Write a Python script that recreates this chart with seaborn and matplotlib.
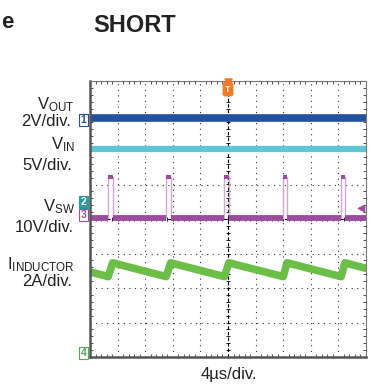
import numpy as np
import matplotlib
matplotlib.use("Agg")
import matplotlib.pyplot as plt
import matplotlib.transforms as mtransforms
from matplotlib.ticker import MultipleLocator
import seaborn as sns
import pandas as pd

# --- values (divisions: x 0..10, y 0..8) ---
vout_level = 6.93
vin_level = 6.03
vsw_low = 4.03
vsw_high = 5.22
sw_rise = [0.66, 2.76, 4.87, 7.00, 9.10]
sw_fall = [0.82, 2.92, 5.03, 7.14, 9.24]
il_x = [0, 0.66, 0.82, 2.76, 2.92, 4.87, 5.03, 7.00, 7.14, 9.10, 9.24, 10]
il_y = [2.47, 2.33, 2.73, 2.33, 2.73, 2.33, 2.73, 2.33, 2.73, 2.33, 2.73, 2.57]

sns.set_style("white")
plt.rcParams['font.family'] = ['Liberation Sans', 'DejaVu Sans']
plt.rcParams['mathtext.default'] = 'regular'

c_vout = "#2450a0"
c_vin = "#5cc6d2"
c_vsw = "#9c4c9e"
c_vsw_edge = "#d4a6d4"
c_il = "#6cbf46"
c_trig = "#f37a22"

# switch node waveform built from edge times
vsw_x, vsw_y = [0], [vsw_low]
for r, f in zip(sw_rise, sw_fall):
    vsw_x += [r, r, f, f]
    vsw_y += [vsw_low, vsw_high, vsw_high, vsw_low]
vsw_x.append(10)
vsw_y.append(vsw_low)
vsw = pd.DataFrame({"t": vsw_x, "v": vsw_y})
vsw["lo"] = vsw["v"].where(vsw["v"] < 4.5)
vsw["hi"] = vsw["v"].where(vsw["v"] > 4.5)

fig = plt.figure(figsize=(3.72, 3.85), dpi=100)
ax = fig.add_axes([90 / 372, 1 - 357 / 385, 276 / 372, 276 / 385])

sns.lineplot(x=[0, 10], y=[vout_level, vout_level], ax=ax, color=c_vout, lw=5.5)
sns.lineplot(x=[0, 10], y=[vin_level, vin_level], ax=ax, color=c_vin, lw=4.5)
ax.plot(vsw["t"], vsw["v"], color=c_vsw_edge, lw=1.0)
ax.plot(vsw["t"], vsw["lo"], color=c_vsw, lw=4.2, solid_capstyle="butt")
ax.plot(vsw["t"], vsw["hi"], color=c_vsw, lw=3.0, solid_capstyle="butt")
sns.lineplot(x=il_x, y=il_y, ax=ax, color=c_il, lw=5.5, sort=False,
             estimator=None)

ax.set_xlim(0, 10)
ax.set_ylim(0, 8)
ax.set_xticks(range(11))
ax.set_yticks(range(9))
ax.xaxis.set_minor_locator(MultipleLocator(0.2))
ax.yaxis.set_minor_locator(MultipleLocator(0.2))
ax.set_xticklabels([])
ax.set_yticklabels([])
ax.tick_params(which="major", length=0)
ax.tick_params(which="minor", direction="in", length=2.5, width=0.6,
               color="#333333", top=True, right=True, bottom=True, left=True)
ax.grid(True, which="major", color="#333333", lw=0.8, ls=(0, (1, 4)))
for side in ["left", "bottom"]:
    ax.spines[side].set_linewidth(1.8)
    ax.spines[side].set_color("#555555")
for side in ["top", "right"]:
    ax.spines[side].set_linewidth(0.8)
    ax.spines[side].set_color("#777777")

# centre crosshair with its ticks
ax.axhline(4, color="black", lw=0.8, ls=(0, (3, 2)), zorder=1)
ax.axvline(5, color="black", lw=0.8, ls=(0, (3, 2)), zorder=1)
ticks = np.arange(0.2, 10, 0.2)
ax.scatter(ticks, np.full(ticks.size, 4.0), marker="|", s=12, lw=0.6,
           color="black", zorder=1)
vticks = np.arange(0.2, 8, 0.2)
ax.scatter(np.full(vticks.size, 5.0), vticks, marker="_", s=12, lw=0.6,
           color="black", zorder=1)

# trigger marker and level arrow
ax.scatter([5], [7.96], marker="v", s=26, color=c_trig, clip_on=False, zorder=5)
ax.text(5, 7.76, "T", color="white", fontsize=6.5, fontweight="bold",
        ha="center", va="center", zorder=6,
        bbox=dict(boxstyle="round,pad=0.22", fc=c_trig, ec=c_trig))
ax.scatter([9.82], [4.32], marker="<", s=20, color=c_vsw, zorder=5)

# channel markers on the left edge
trans = mtransforms.blended_transform_factory(ax.transAxes, ax.transData)
markers = [("1", 6.87, c_vout, False), ("2", 4.49, "#2a9a9a", True),
           ("3", 4.12, c_vsw, False), ("4", 0.12, "#4caf50", False)]
for lab, yv, col, filled in markers:
    ax.text(-0.024, yv, lab, transform=trans, ha="center", va="center",
            fontsize=7.5, color="white" if filled else col, clip_on=False,
            fontweight="bold",
            bbox=dict(boxstyle="square,pad=0.12", fc=col if filled else "white",
                      ec=col, lw=0.8))

# channel labels
def lbl(x, y, s, size=12):
    fig.text(x / 372, 1 - y / 385, s, ha="right", va="center", fontsize=size,
             color="#222222")

lbl(75, 105, r"V$_{OUT}$")
lbl(71, 121, "2V/div.")
lbl(75, 145, r"V$_{IN}$")
lbl(72, 166, "5V/div.")
lbl(75, 207, r"V$_{SW}$")
lbl(74, 227, "10V/div.")
lbl(75, 265, r"I$_{INDUCTOR}$")
lbl(72, 282, "2A/div.")

fig.text(229 / 372, 1 - 374 / 385, "4µs/div.", ha="center", va="center",
         fontsize=12, color="#222222")
fig.text(93 / 372, 1 - 25 / 385, "SHORT", ha="left", va="center",
         fontsize=17, fontweight="bold", color="#222222")
fig.text(1 / 372, 1 - 22 / 385, "e", ha="left", va="center",
         fontsize=16, fontweight="bold", color="#222222")

fig.savefig("out.png", dpi=100)
